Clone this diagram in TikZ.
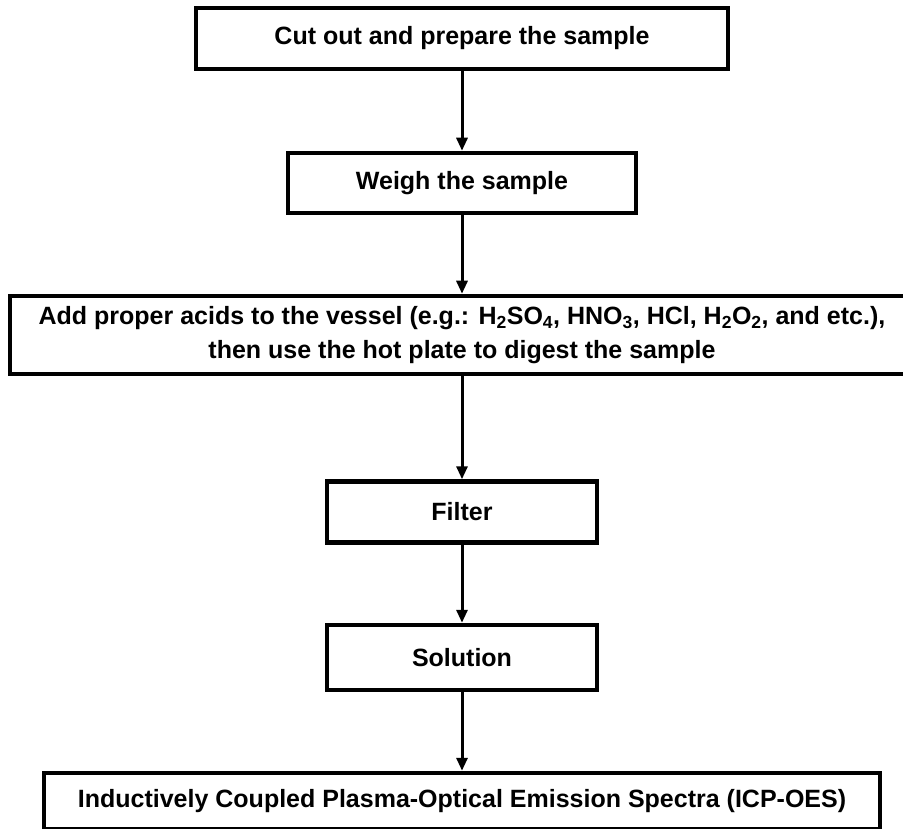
\documentclass[tikz,border=0pt]{standalone}
\usepackage{fontspec}
\setmainfont{Liberation Sans}
\usepackage{tikz}
\usetikzlibrary{arrows.meta}
\tikzset{node/.style = {rectangle, draw=black, line width=4.5pt, inner sep=0pt, align=center, font=\fontsize{25}{34}\selectfont\bfseries}}
\tikzset{link/.style = {line width=3pt, -{Triangle[length=13pt, width=11pt]}}}

\begin{document}
\begin{tikzpicture}[x=1pt, y=-1pt]
            \useasboundingbox (0, 0) rectangle (903, 829);
            \clip (0, 0) rectangle (903, 829);

            \node [node, minimum width=532, minimum height=61] (1) at (462, 38.5) {Cut out and prepare the sample};
            \node [node, minimum width=348, minimum height=60] (2) at (462, 183) {Weigh the sample};
            \node [node, minimum width=904, minimum height=78] (3) at (462, 335) {Add proper acids to the vessel (e.g.: H\textsubscript{2}SO\textsubscript{4}, HNO\textsubscript{3}, HCl, H\textsubscript{2}O\textsubscript{2}, and etc.),\\then use the hot plate to digest the sample};
            \node [node, minimum width=270, minimum height=61] (4) at (462, 512) {Filter};
            \node [node, minimum width=270, minimum height=65] (5) at (462, 657.5) {Solution};
            \node [node, minimum width=836, minimum height=56] (6) at (462, 801) {Inductively Coupled Plasma-Optical Emission Spectra (ICP-OES)};

            \draw [link] (1) -- (2);
            \draw [link] (2) -- (3);
            \draw [link] (3) -- (4);
            \draw [link] (4) -- (5);
            \draw [link] (5) -- (6);
        \end{tikzpicture}
\end{document}
